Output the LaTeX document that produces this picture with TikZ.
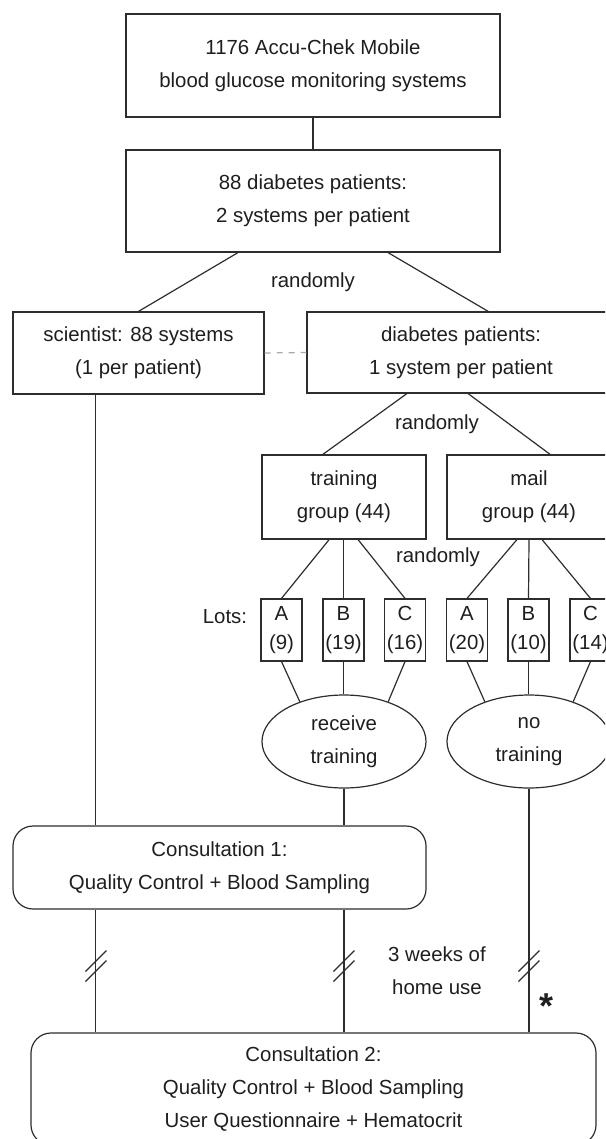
\documentclass[tikz,border=0pt]{standalone}
\usepackage{fontspec}
\setmainfont{Liberation Sans}
\definecolor{flowline}{RGB}{45,45,45}
\definecolor{flowtext}{RGB}{30,30,30}
\definecolor{flowdash}{RGB}{170,170,170}
\usetikzlibrary{calc,positioning,shapes.geometric}

\begin{document}
\begin{tikzpicture}[x=0.5pt,y=-0.5pt,
  every node/.style={text=flowtext,align=center,inner sep=0pt,
                     font=\fontsize{10.2}{16.5}\selectfont},
  box/.style={draw=flowline,line width=0.6pt},
  lot/.style={box,minimum width=20.5pt,minimum height=31pt,
              font=\fontsize{10.2}{14.5}\selectfont},
  oval/.style={box,ellipse,minimum width=82pt,minimum height=46.5pt},
  consult/.style={box,rounded corners=10pt},
  link/.style={flowline,line width=0.6pt},
  brk/.pic={\draw[link] (-10.5,-5+10.5) -- (10.5,-5-10.5);
            \draw[link] (-10.5,5+10.5) -- (10.5,5-10.5);}]
  \useasboundingbox (0,0) rectangle (605,1139);
  \clip (0,0) rectangle (605,1139);
  %% Systems and patients
  \node[box,minimum width=187pt,minimum height=51.5pt] (sys) at (313,65.5)
        {1176 Accu-Chek Mobile\\blood glucose monitoring systems};
  \node[box,minimum width=187pt,minimum height=51pt] (pat) at (313,201)
        {88 diabetes patients:\\2 systems per patient};
  \node (rnd1) at (313,282) {randomly};
  \node[box,minimum width=125.5pt,minimum height=41pt] (sci) at (138.5,353)
        {scientist: 88 systems\\(1 per patient)};
  \node[box,minimum width=154pt,minimum height=40.5pt] (dia) at (461,352.5)
        {diabetes patients:\\1 system per patient};
  \node (rnd2) at (437,424) {randomly};
  %% Groups
  \node[box,minimum width=82pt,minimum height=42pt] (trg) at (344,497)
        {training\\group (44)};
  \node[box,minimum width=82pt,minimum height=42pt] (mail) at (529,497)
        {mail\\group (44)};
  \node (rnd3) at (438,557) {randomly};
  %% Lots
  \node (lots) at (225,617) {Lots:};
  \node[lot] (ta) at (281.5,630) {A\\(9)};
  \node[lot] (tb) at (343.5,630) {B\\(19)};
  \node[lot] (tc) at (405,630) {C\\(16)};
  \node[lot] (ma) at (467,630) {A\\(20)};
  \node[lot] (mb) at (528.5,630) {B\\(10)};
  \node[lot] (mc) at (590.5,630) {C\\(14)};
  \node[oval] (rt) at (344,741.5) {receive\\training};
  \node[oval] (nt) at (529,741.5) {no\\training};
  %% Consultations
  \node[consult,minimum width=206.5pt,minimum height=41.5pt] (con1) at (219.5,867.5)
        {Consultation 1:\\Quality Control + Blood Sampling};
  \node[consult,minimum width=282.5pt,minimum height=56pt] (con2) at (313.5,1089)
        {Consultation 2:\\Quality Control + Blood Sampling\\User Questionnaire + Hematocrit};
  \node (home) at (437,971) {3 weeks of\\home use};
  \node (star) at (546,1006) {\fontsize{18}{18}\selectfont\bfseries *};
  %% Connectors
  \draw[link] (sys) -- (pat);
  \draw[link] ($(pat.south west)!0.3!(pat.south east)$) -- (sci.north);
  \draw[link] ($(pat.south west)!0.7!(pat.south east)$) -- ($(dia.north west)!0.588!(dia.north east)$);
  \draw[flowdash,line width=0.6pt,dashed] (sci.east) -- (dia.west);
  \draw[link] ($(dia.south west)!0.325!(dia.south east)$) -- ($(trg.north west)!0.372!(trg.north east)$);
  \draw[link] ($(dia.south west)!0.523!(dia.south east)$) -- ($(mail.north west)!0.628!(mail.north east)$);
  \draw[link] ($(trg.south west)!0.41!(trg.south east)$) -- (ta.north);
  \draw[link] (tb.north |- trg.south) -- (tb.north);
  \draw[link] ($(trg.south west)!0.585!(trg.south east)$) -- (tc.north);
  \draw[link] ($(mail.south west)!0.427!(mail.south east)$) -- (ma.north);
  \draw[link] (mail.south) -- (mb.north);
  \draw[link] ($(mail.south west)!0.579!(mail.south east)$) -- (mc.north);
  \draw[link] (ta.south) -- (rt.138);
  \draw[link] (tb.south) -- (tb.south |- rt.north);
  \draw[link] (tc.south) -- (rt.42);
  \draw[link] (ma.south) -- (nt.138);
  \draw[link] (mb.south) -- (mb.south |- nt.north);
  \draw[link] (mc.south) -- (nt.42);
  \draw[link] ($(sci.south west)+(83,0)$) coordinate (sl) -- (sl |- con1.north);
  \draw[link] (rt.south) -- (rt.south |- con1.north);
  \draw[link] (sl |- con1.south) -- (sl |- con2.north);
  \draw[link] (rt.south |- con1.south) -- (rt.south |- con2.north);
  \draw[link] (nt.south) -- (nt.south |- con2.north);
  %% Breaks
  \foreach \x in {96,344,529}
    \pic at (\x,966) {brk};
\end{tikzpicture}
\end{document}
